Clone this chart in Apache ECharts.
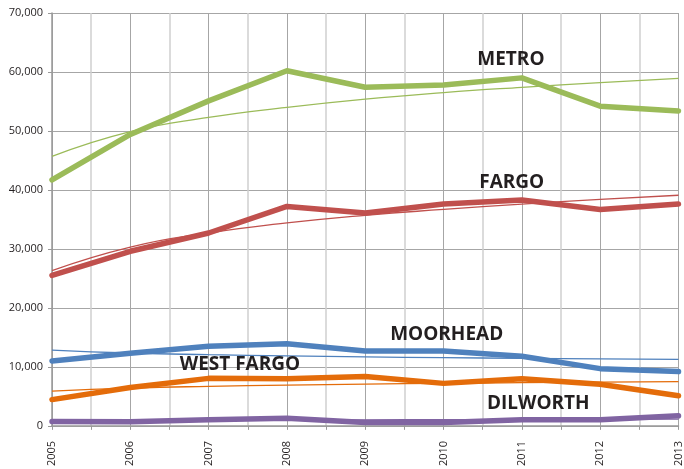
<!DOCTYPE html>
<html>
<head>
<meta charset="utf-8">
<script src="https://cdn.jsdelivr.net/npm/echarts@6/dist/echarts.min.js"></script>
<style>
  html, body { margin: 0; padding: 0; background: #fff; }
  #chart { width: 684px; height: 469px; }
</style>
</head>
<body>
<div id="chart"></div>
<script>
// Years on the horizontal axis
const years = [2005, 2006, 2007, 2008, 2009, 2010, 2011, 2012, 2013];

// Annual values per area
const metro     = [41700, 49400, 55100, 60200, 57400, 57800, 59000, 54200, 53400];
const fargo     = [25500, 29600, 32700, 37200, 36100, 37600, 38300, 36700, 37600];
const moorhead  = [11000, 12300, 13500, 13900, 12700, 12700, 11800, 9700, 9200];
const westFargo = [4450, 6500, 8050, 8000, 8350, 7200, 8000, 7050, 5100];
const dilworth  = [750, 700, 1050, 1300, 550, 550, 1050, 1050, 1700];

// Logarithmic trend values per area
const metroTrend     = [45700, 49900, 52300, 54000, 55400, 56500, 57400, 58200, 58900];
const fargoTrend     = [26300, 30300, 32700, 34400, 35700, 36700, 37600, 38400, 39100];
const moorheadTrend  = [12850, 12350, 12060, 11850, 11690, 11560, 11450, 11350, 11270];
const westFargoTrend = [5900, 6400, 6700, 6900, 7080, 7210, 7320, 7420, 7500];
const dilworthTrend  = [660, 810, 900, 960, 1010, 1050, 1080, 1110, 1130];

// Y-axis tick labels
const yTicks = ['0', '10,000', '20,000', '30,000', '40,000', '50,000', '60,000', '70,000'];

// Series names with label anchor (year, value)
const names = ['METRO', 'FARGO', 'MOORHEAD', 'WEST FARGO', 'DILWORTH'];
const labelYears  = [2010.86, 2010.87, 2010.04, 2007.40, 2011.21];
const labelValues = [62150, 41200, 15550, 10370, 3720];

const colors = ['#9bbb59', '#c0504d', '#4f81bd', '#e46c0a', '#8064a2'];
const mainData = [metro, fargo, moorhead, westFargo, dilworth];
const trendData = [metroTrend, fargoTrend, moorheadTrend, westFargoTrend, dilworthTrend];

const pairs = (vals) => years.map((y, i) => [y, vals[i]]);

const series = [];
mainData.forEach((vals, k) => {
  series.push({
    name: names[k],
    type: 'line',
    data: pairs(vals),
    symbol: 'none',
    lineStyle: { color: colors[k], width: 5.5, cap: 'round', join: 'round' },
    z: 2,
    markPoint: {
      symbol: 'circle',
      symbolSize: 0,
      silent: true,
      data: [{
        coord: [labelYears[k], labelValues[k]],
        label: {
          show: true,
          position: 'inside',
          formatter: names[k],
          fontFamily: 'Open Sans',
          fontWeight: 'bold',
          fontSize: 19,
          color: '#231f20'
        }
      }]
    }
  });
});
trendData.forEach((vals, k) => {
  series.push({
    name: names[k] + ' trend',
    type: 'line',
    data: pairs(vals),
    symbol: 'none',
    smooth: 0.5,
    lineStyle: { color: colors[k], width: 1.3 },
    z: 3
  });
});

const chart = echarts.init(document.getElementById('chart'), null, { renderer: 'canvas' });
chart.setOption({
  animation: false,
  backgroundColor: '#ffffff',
  grid: { left: 52, right: 4, top: 13, bottom: 42, containLabel: false },
  xAxis: {
    type: 'value',
    min: 2005,
    max: 2013,
    interval: 1,
    axisLine: { show: true, lineStyle: { color: '#999999', width: 1.5 } },
    axisTick: { show: true, length: 4, lineStyle: { color: '#999999' } },
    minorTick: { show: true, splitNumber: 2, length: 4, lineStyle: { color: '#999999' } },
    splitLine: { show: true, lineStyle: { color: '#a6a6a6', width: 1 } },
    minorSplitLine: { show: true, lineStyle: { color: '#d0d0d0', width: 1.5 } },
    axisLabel: {
      rotate: 90,
      margin: 15,
      fontFamily: 'Open Sans',
      fontSize: 11,
      color: '#231f20',
      formatter: (v) => String(v)
    }
  },
  yAxis: {
    type: 'value',
    min: 0,
    max: 70000,
    interval: 10000,
    axisLine: { show: true, lineStyle: { color: '#999999', width: 1.5 } },
    axisTick: { show: true, length: 4, lineStyle: { color: '#999999' } },
    splitLine: { show: true, lineStyle: { color: '#a6a6a6', width: 1 } },
    axisLabel: {
      margin: 9,
      fontFamily: 'Open Sans',
      fontSize: 11,
      color: '#231f20',
      formatter: (v) => yTicks[Math.round(v / 10000)]
    }
  },
  series: series
});
</script>
</body>
</html>
